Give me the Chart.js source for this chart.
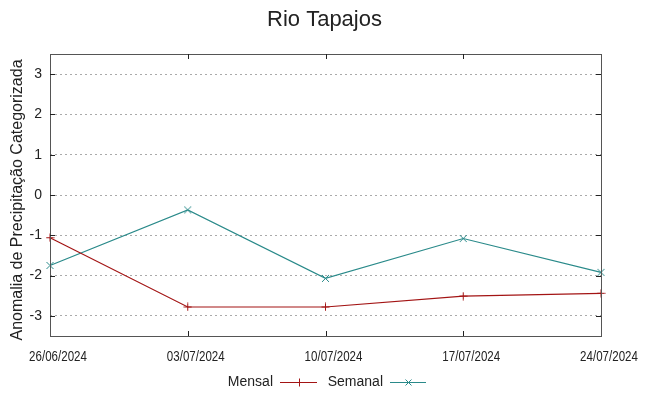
<!DOCTYPE html>
<html>
<head>
<meta charset="utf-8">
<script src="https://cdn.jsdelivr.net/npm/chart.js@4/dist/chart.umd.min.js"></script>
<style>
html,body{margin:0;padding:0;background:#fff;}
#wrap{width:649px;height:396px;position:relative;}
</style>
</head>
<body>
<div id="wrap"><canvas id="c" width="649" height="396"></canvas></div>
<script>
const chartTitle = "Rio Tapajos";
const yAxisTitle = "Anomalia de Precipitação Categorizada";
const categories = ["26/06/2024", "03/07/2024", "10/07/2024", "17/07/2024", "24/07/2024"];
const mensalValues = [-1.06, -2.78, -2.78, -2.51, -2.44];
const semanalValues = [-1.75, -0.37, -2.07, -1.08, -1.92];
const yTicks = [-3, -2, -1, 0, 1, 2, 3];
const seriesNames = ["Mensal", "Semanal"];

const RED = '#a31414';
const TEAL = '#2a8a8a';
const FONT = "'Liberation Sans', Arial, sans-serif";

function crossMarker(kind, color) {
  const c = document.createElement('canvas');
  c.width = 9; c.height = 9;
  const g = c.getContext('2d');
  g.strokeStyle = color; g.lineWidth = 1;
  g.beginPath();
  if (kind === 'plus') {
    g.moveTo(4.5, 0.5); g.lineTo(4.5, 8.5);
    g.moveTo(0.5, 4.5); g.lineTo(8.5, 4.5);
  } else {
    g.moveTo(1, 1); g.lineTo(8, 8);
    g.moveTo(8, 1); g.lineTo(1, 8);
  }
  g.stroke();
  return c;
}

const framePlugin = {
  id: 'frame',
  afterDraw(chart) {
    const { ctx, chartArea: a, scales } = chart;
    ctx.save();
    ctx.fillStyle = '#222';
    ctx.textAlign = 'center';
    ctx.textBaseline = 'middle';
    // title centred on the full canvas
    ctx.font = '22px ' + FONT;
    ctx.fillText(chartTitle, chart.width / 2, 20);

    // y axis title
    ctx.save();
    ctx.font = '16px ' + FONT;
    ctx.translate(18, 200);
    ctx.rotate(-Math.PI / 2);
    ctx.fillText(yAxisTitle, 0, 0);
    ctx.restore();

    // condensed x tick labels, positioned from the category scale
    ctx.font = '15px ' + FONT;
    categories.forEach((c, i) => {
      const x = scales.x.getPixelForValue(i) + 8;
      ctx.save();
      ctx.translate(x, 357);
      ctx.scale(0.77, 1);
      ctx.fillText(scales.x.getLabelForValue(i), 0, 0);
      ctx.restore();
    });

    ctx.strokeStyle = '#555';
    ctx.lineWidth = 1;
    ctx.strokeRect(a.left + 0.5, a.top + 0.5, a.right - a.left, a.bottom - a.top);
    ctx.strokeStyle = '#222';
    ctx.beginPath();
    yTicks.forEach(v => {
      const y = Math.round(scales.y.getPixelForValue(v)) + 0.5;
      ctx.moveTo(a.left, y); ctx.lineTo(a.left + 5, y);
      ctx.moveTo(a.right, y); ctx.lineTo(a.right - 5, y);
    });
    categories.forEach((c, i) => {
      if (i === 0 || i === categories.length - 1) return;
      const x = Math.round(scales.x.getPixelForValue(i)) + 0.5;
      ctx.moveTo(x, a.bottom); ctx.lineTo(x, a.bottom - 5);
      ctx.moveTo(x, a.top); ctx.lineTo(x, a.top + 5);
    });
    ctx.stroke();

    // legend (gnuplot-style: text then sample)
    const ly = 382;
    ctx.font = '14px ' + FONT;
    ctx.fillStyle = '#222';
    ctx.textBaseline = 'middle';
    ctx.textAlign = 'right';
    const items = [
      { name: seriesNames[0], color: RED, kind: 'plus', tx: 273, lx0: 280, lx1: 317 },
      { name: seriesNames[1], color: TEAL, kind: 'cross', tx: 383, lx0: 390, lx1: 426 }
    ];
    items.forEach(it => {
      ctx.fillText(it.name, it.tx, ly);
      ctx.strokeStyle = it.color;
      ctx.lineWidth = 1;
      ctx.beginPath();
      ctx.moveTo(it.lx0, ly + 0.5); ctx.lineTo(it.lx1, ly + 0.5);
      const mx = Math.round((it.lx0 + it.lx1) / 2) + 0.5;
      if (it.kind === 'plus') {
        ctx.moveTo(mx, ly - 3.5); ctx.lineTo(mx, ly + 4.5);
      } else {
        ctx.moveTo(mx - 3, ly - 2.5); ctx.lineTo(mx + 3, ly + 3.5);
        ctx.moveTo(mx + 3, ly - 2.5); ctx.lineTo(mx - 3, ly + 3.5);
      }
      ctx.stroke();
    });
    ctx.restore();
  }
};

new Chart(document.getElementById('c'), {
  type: 'line',
  data: {
    labels: categories,
    datasets: [
      {
        label: seriesNames[0], data: mensalValues,
        borderColor: RED, backgroundColor: RED, borderWidth: 1.2,
        pointStyle: crossMarker('plus', RED), pointRadius: 4, tension: 0
      },
      {
        label: seriesNames[1], data: semanalValues,
        borderColor: TEAL, backgroundColor: TEAL, borderWidth: 1.2,
        pointStyle: crossMarker('cross', TEAL), pointRadius: 4, tension: 0
      }
    ]
  },
  options: {
    responsive: false,
    animation: false,
    devicePixelRatio: 1,
    layout: { padding: { top: 54, left: 0, right: 48, bottom: 30 } },
    plugins: {
      legend: { display: false },
      tooltip: { enabled: false },
      title: { display: false }
    },
    scales: {
      x: {
        type: 'category',
        offset: false,
        grid: { display: false, drawTicks: false },
        border: { display: false },
        ticks: { display: false, autoSkip: false, maxRotation: 0 },
        afterFit(s) { s.height = 30; }
      },
      y: {
        min: -3.5, max: 3.5,
        afterBuildTicks(s) { s.ticks = yTicks.map(v => ({ value: v })); },
        grid: { color: '#aaaaaa', lineWidth: 1, drawTicks: false },
        border: { display: false, dash: [2, 3] },
        ticks: {
          color: '#222', font: { family: FONT, size: 14 }, padding: 8,
          callback: v => String(v)
        },
        title: { display: false },
        afterFit(s) { s.width = 50; }
      }
    }
  },
  plugins: [framePlugin]
});
</script>
</body>
</html>
